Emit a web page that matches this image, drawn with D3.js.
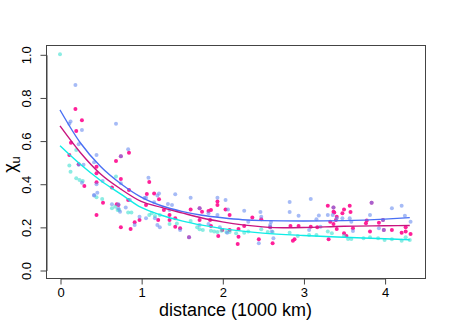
<!DOCTYPE html>
<html lang="en">
  <head>
    <meta charset="UTF-8" />
    <title>chi u vs distance</title>
    <script src="https://d3js.org/d3.v7.min.js"></script>
    <style>
      body { margin: 0; background: #fff; }
      text { font-family: 'Liberation Sans', Arial, Helvetica, sans-serif; fill: #000; }
    </style>
  </head>
  <body>
    <svg width="449" height="336"></svg>
    <script>
      // scatter points [distance, chi_u] for each group
      var pinkPts = [[0.19,0.746],[0.27,0.694],[0.2,0.644],[0.135,0.59],[0.115,0.533],[0.45,0.479],[0.69,0.505],[0.75,0.527],[0.85,0.544],[0.23,0.49],[0.75,0.422],[0.3,0.39],[0.45,0.407],[0.45,0.448],[0.53,0.312],[0.45,0.255],[0.70,0.305],[0.75,0.198],[0.87,0.19],[0.92,0.221],[0.98,0.232],[0.84,0.325],[0.85,0.371],[1.07,0.352],[1.06,0.301],[0.64,0.383],[0.72,0.301],[1.1,0.408],[1.16,0.355],[1.22,0.328],[1.28,0.278],[1.61,0.281],[1.72,0.286],[1.75,0.27],[1.83,0.274],[1.86,0.278],[1.94,0.317],[1.94,0.301],[2.04,0.281],[1.21,0.232],[1.35,0.255],[1.35,0.232],[1.42,0.24],[1.42,0.2],[1.48,0.193],[1.59,0.152],[1.72,0.232],[1.85,0.232],[1.86,0.204],[1.95,0.158],[2.0,0.185],[2.09,0.185],[2.19,0.12],[2.09,0.255],[2.2,0.19],[2.37,0.243],[2.48,0.235],[2.59,0.198],[2.27,0.204],[2.2,0.154],[2.45,0.142],[2.62,0.124],[2.84,0.204],[2.94,0.204],[2.89,0.142],[2.87,0.136],[3.09,0.2],[3.17,0.198],[3.3,0.298],[3.37,0.29],[3.37,0.27],[3.33,0.224],[3.37,0.213],[3.31,0.142],[3.38,0.266],[3.41,0.247],[3.4,0.232],[3.48,0.263],[3.5,0.281],[3.57,0.298],[3.58,0.269],[3.41,0.19],[3.61,0.193],[3.5,0.17],[3.53,0.158],[3.84,0.312],[3.78,0.229],[3.77,0.217],[3.98,0.232],[3.93,0.219],[3.99,0.185],[3.82,0.178],[4.09,0.185],[4.21,0.173],[4.26,0.198],[4.26,0.178],[4.32,0.167]]

      var bluePts = [[0.19,0.858],[0.13,0.689],[0.115,0.678],[0.27,0.649],[0.69,0.678],[0.23,0.583],[0.84,0.56],[0.45,0.533],[0.42,0.5],[0.75,0.527],[0.23,0.488],[0.29,0.488],[1.09,0.428],[0.27,0.405],[0.45,0.397],[0.42,0.348],[0.46,0.358],[0.64,0.305],[0.72,0.285],[0.74,0.27],[0.92,0.209],[0.86,0.325],[0.81,0.29],[0.525,0.413],[0.75,0.402],[0.42,0.345],[0.72,0.305],[0.98,0.247],[1.06,0.335],[1.04,0.334],[1.22,0.355],[1.2,0.345],[1.16,0.314],[1.42,0.351],[1.33,0.306],[1.38,0.301],[1.35,0.278],[1.61,0.335],[1.72,0.286],[1.83,0.263],[1.94,0.335],[2.04,0.325],[2.07,0.281],[1.94,0.255],[1.06,0.24],[1.17,0.24],[1.2,0.209],[1.23,0.198],[1.48,0.185],[1.59,0.152],[1.72,0.209],[1.83,0.213],[1.97,0.198],[2.06,0.173],[2.27,0.275],[2.32,0.224],[2.47,0.269],[2.48,0.247],[2.6,0.223],[2.59,0.209],[2.59,0.198],[2.45,0.124],[2.61,0.178],[2.63,0.147],[2.83,0.315],[2.83,0.269],[2.94,0.252],[3.09,0.329],[3.16,0.235],[3.19,0.253],[3.07,0.185],[3.3,0.255],[3.36,0.255],[3.37,0.29],[3.21,0.2],[3.41,0.24],[3.48,0.24],[3.57,0.24],[3.59,0.224],[3.61,0.181],[3.84,0.312],[3.82,0.255],[3.93,0.193],[3.98,0.232],[3.99,0.185],[4.09,0.286],[4.21,0.298],[4.25,0.252],[4.32,0.224]]

      var cyanPts = [[0,1.0],[0.2,0.556],[0.115,0.484],[0.13,0.456],[0.2,0.425],[0.24,0.417],[0.28,0.413],[0.69,0.433],[0.45,0.337],[0.52,0.329],[0.64,0.286],[0.68,0.293],[0.71,0.278],[0.73,0.278],[0.84,0.266],[0.88,0.266],[1.1,0.255],[1.13,0.263],[1.17,0.25],[1.23,0.255],[1.35,0.213],[1.44,0.216],[1.61,0.227],[1.69,0.198],[1.72,0.189],[1.76,0.185],[1.86,0.182],[1.9,0.179],[1.94,0.176],[1.99,0.182],[2.05,0.176],[2.09,0.176],[2.17,0.17],[2.27,0.173],[2.32,0.179],[2.48,0.189],[2.56,0.176],[2.62,0.176],[2.83,0.173],[2.93,0.158],[3.07,0.162],[3.16,0.162],[3.3,0.178],[3.35,0.17],[3.5,0.158],[3.55,0.144],[3.59,0.144],[3.74,0.147],[3.82,0.152],[3.92,0.147],[4.0,0.139],[4.09,0.142],[4.21,0.136],[4.26,0.152],[4.31,0.139]]

      // fitted curves
      var blueFit = [[0,0.742],[0.25,0.59],[0.5,0.48],[0.75,0.40],[1,0.338],[1.25,0.298],[1.5,0.272],[1.75,0.254],[2,0.242],[2.25,0.233],[2.5,0.229],[3,0.227],[3.5,0.229],[4,0.236],[4.31,0.243]]
      var redFit = [[0,0.668],[0.25,0.545],[0.5,0.445],[0.75,0.375],[1,0.318],[1.25,0.29],[1.5,0.265],[1.75,0.241],[2,0.223],[2.25,0.209],[2.5,0.2],[2.75,0.196],[3,0.197],[3.5,0.203],[4,0.205],[4.31,0.206]]
      var cyanFit = [[0,0.576],[0.25,0.49],[0.5,0.415],[0.75,0.352],[1,0.29],[1.25,0.254],[1.5,0.228],[1.75,0.208],[2,0.192],[2.25,0.18],[2.5,0.171],[3,0.16],[3.5,0.152],[4,0.145],[4.31,0.14]]

      var xTicks = [0, 1, 2, 3, 4]
      var yTicks = [0, 0.2, 0.4, 0.6, 0.8, 1]

      var svg = d3.select('svg')
      var box = { left: 46, right: 425, top: 45, bottom: 278 }

      var x = d3.scaleLinear().domain([0, 4]).range([60, 384.6])
      var y = d3.scaleLinear().domain([0, 1]).range([270, 54.3])

      // points: pink first so the translucent blue shows purple on top
      function dots(data, fill, op) {
        svg.append('g')
          .selectAll('circle')
          .data(data)
          .enter()
          .append('circle')
          .attr('cx', d => x(d[0]))
          .attr('cy', d => y(d[1]))
          .attr('r', 2)
          .attr('fill', fill)
          .attr('fill-opacity', op)
      }
      dots(pinkPts, '#ff1493', 0.95)
      dots(cyanPts, '#40e0d0', 0.6)
      dots(bluePts, '#6a8ef0', 0.6)

      var line = d3.line().x(d => x(d[0])).y(d => y(d[1])).curve(d3.curveMonotoneX)
      function curve(data, color) {
        svg.append('path')
          .datum(data)
          .attr('d', line)
          .attr('fill', 'none')
          .attr('stroke', color)
          .attr('stroke-width', 1.4)
      }
      curve(blueFit, '#4a70f4')
      curve(redFit, '#c8157f')
      curve(cyanFit, '#10ece6')

      // box
      svg.append('rect')
        .attr('x', box.left + 0.5)
        .attr('y', box.top + 0.5)
        .attr('width', box.right - box.left)
        .attr('height', box.bottom - box.top)
        .attr('fill', 'none')
        .attr('stroke', '#444')

      // x axis
      var xAxis = d3.axisBottom(x).tickValues(xTicks).tickSize(6).tickSizeOuter(0).tickFormat(d3.format('d'))
      var gx = svg.append('g').attr('transform', `translate(0.5,${box.bottom + 0.5})`).call(xAxis)
      gx.select('.domain').attr('stroke', '#444')
      gx.selectAll('line').attr('stroke', '#444')
      gx.selectAll('text').attr('font-size', 13).attr('y', 9).attr('dy', '0.71em')
        .style('font-family', "'Liberation Sans', Arial, sans-serif")

      // y axis, labels turned like R does
      var yAxis = d3.axisLeft(y).tickValues(yTicks).tickSize(6).tickSizeOuter(0).tickFormat(d3.format('.1f'))
      var gy = svg.append('g').attr('transform', `translate(${box.left + 0.5},0.5)`).call(yAxis)
      gy.select('.domain').attr('stroke', '#444')
      gy.selectAll('line').attr('stroke', '#444')
      gy.selectAll('text')
        .attr('x', null).attr('dy', null)
        .attr('text-anchor', 'middle')
        .attr('transform', 'translate(-16,0) rotate(-90)')
        .attr('font-size', 13)
        .style('font-family', "'Liberation Sans', Arial, sans-serif")

      // axis titles
      svg.append('text')
        .attr('x', (box.left + box.right) / 2)
        .attr('y', 315.5)
        .attr('text-anchor', 'middle')
        .attr('font-size', 18)
        .text('distance (1000 km)')

      var yl = svg.append('text')
        .attr('transform', `translate(16,${(box.top + box.bottom) / 2 + 3}) rotate(-90)`)
        .attr('text-anchor', 'middle')
        .attr('font-size', 18)
      yl.append('tspan').text('χ')
      yl.append('tspan').attr('font-size', 13).attr('dy', 4).text('u')
    </script>
  </body>
</html>
